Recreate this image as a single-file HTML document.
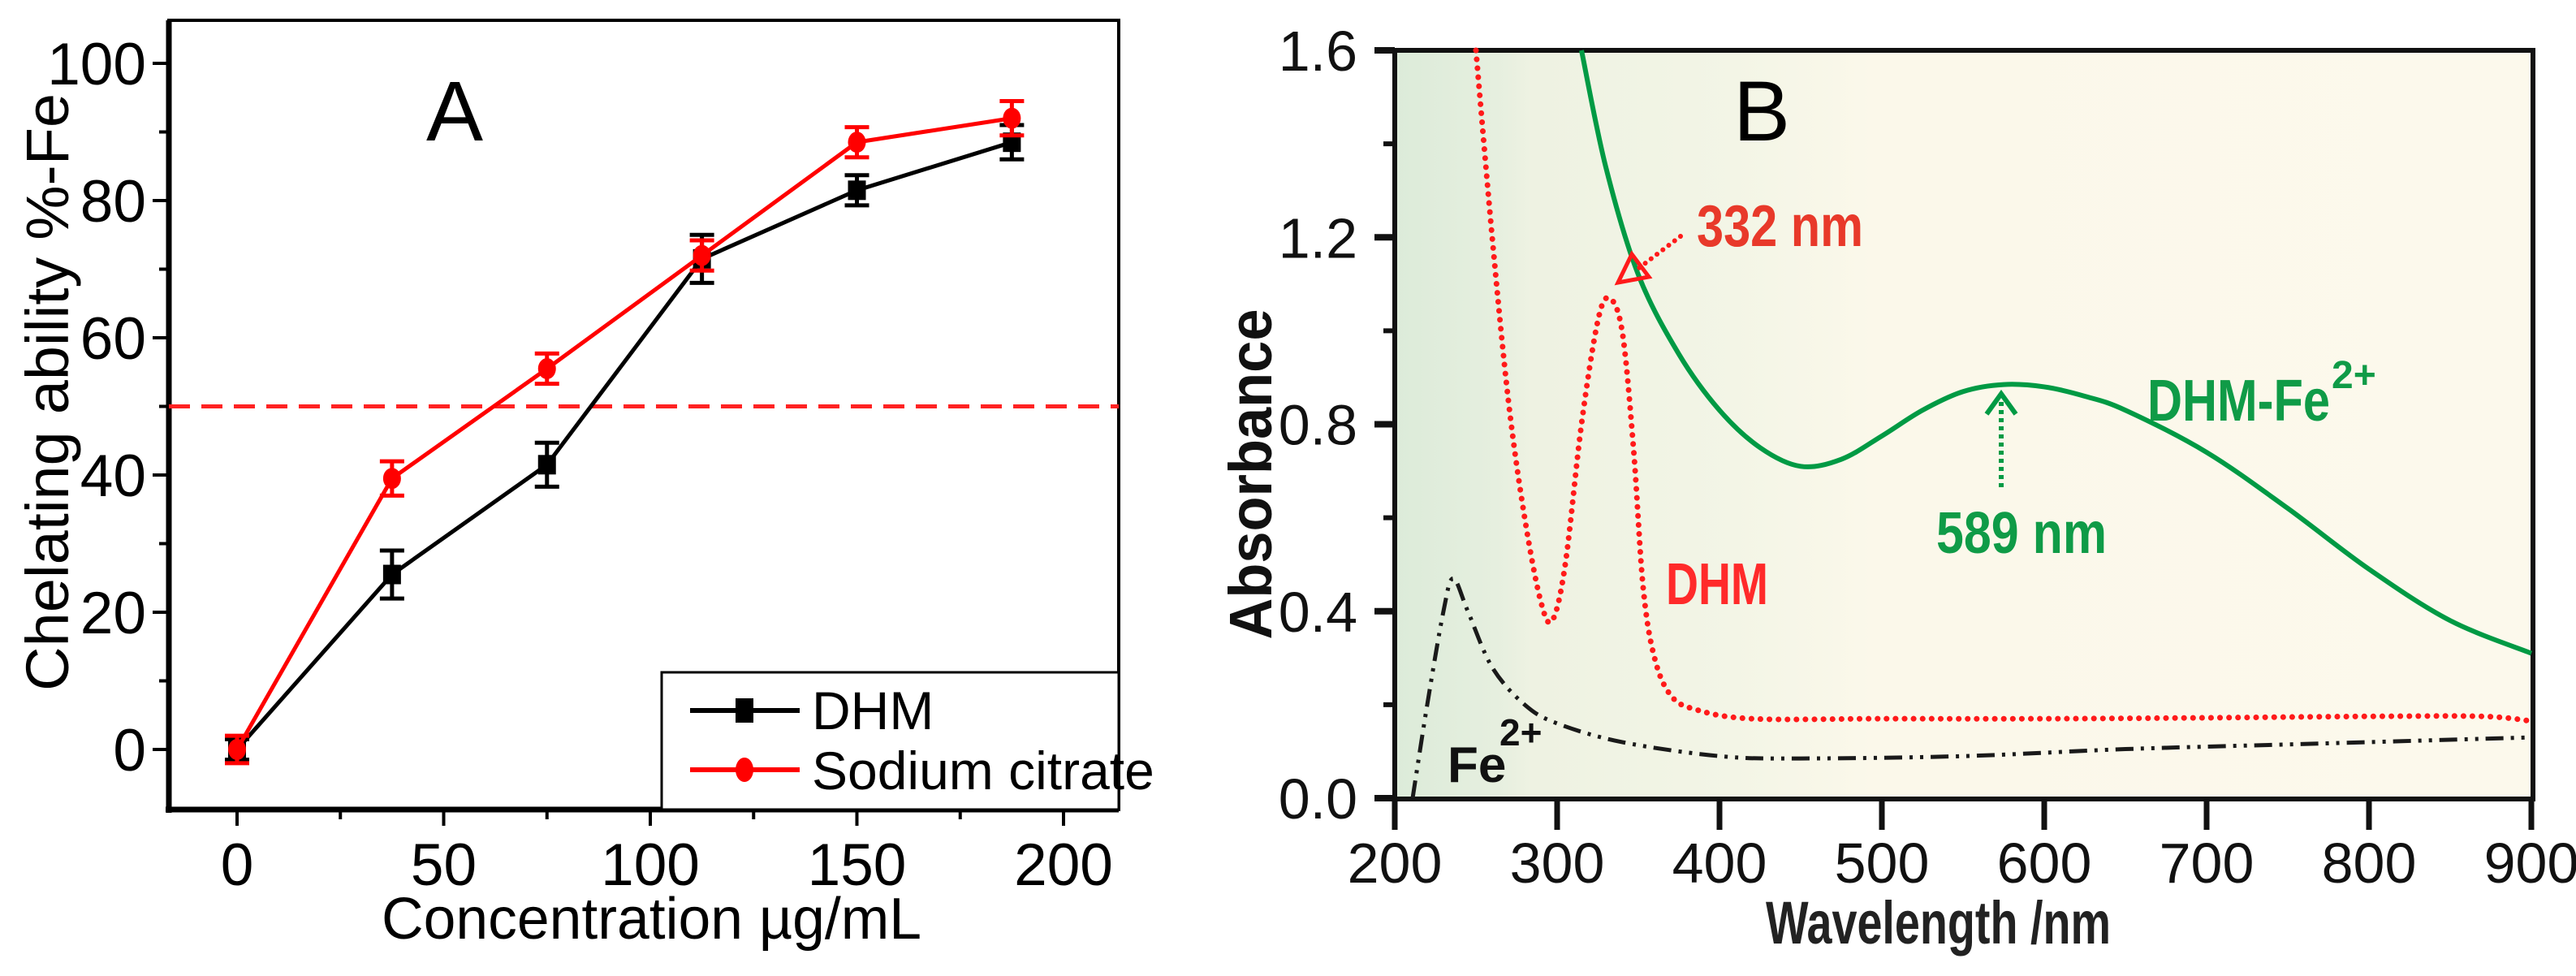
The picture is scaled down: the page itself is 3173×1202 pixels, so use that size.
<!DOCTYPE html>
<html><head><meta charset="utf-8"><style>
html,body{margin:0;padding:0;background:#fff}
svg{display:block}
text{font-family:"Liberation Sans Narrow","Liberation Sans",sans-serif}
</style></head><body>
<svg id="fig" width="3173" height="1202" viewBox="0 0 3173 1202" xmlns="http://www.w3.org/2000/svg">
<defs>
<linearGradient id="bgB" x1="0" y1="0" x2="1" y2="0">
<stop offset="0" stop-color="#dcebd9"/><stop offset="0.09" stop-color="#e6efdf"/><stop offset="0.12" stop-color="#eef2e2"/><stop offset="0.3" stop-color="#f3f5e6"/><stop offset="0.42" stop-color="#fbf8ea"/><stop offset="1" stop-color="#fcf9ec"/>
</linearGradient>
</defs>
<g id="panelA"></g>
<g id="panelB"></g>
</svg>
<script>
// ---------- Panel A data ----------
const concCategories = [0, 37.5, 75, 112.5, 150, 187.5];
const dhmValues = [0, 25.5, 41.5, 71.5, 81.5, 88.5];
const dhmErrors = [1.5, 3.5, 3.2, 3.5, 2.2, 2.5];
const citrateValues = [0, 39.5, 55.5, 72, 88.5, 92];
const citrateErrors = [2, 2.5, 2.2, 2.2, 2.2, 2.5];
const aXTicks = [0, 50, 100, 150, 200];
const aYTicks = [0, 20, 40, 60, 80, 100];
const thresholdValue = 50;

// ---------- Panel B data ----------
const dhmFeWl = [315,330,350,375,400,425,450,475,500,525,550,575,600,625,650,700,750,800,850,900];
const dhmFeAbs = [1.6,1.35,1.12,0.95,0.83,0.75,0.71,0.725,0.775,0.83,0.87,0.885,0.88,0.86,0.83,0.74,0.62,0.49,0.38,0.31];
const dhmWl = [250,260,270,280,290,297,305,315,325,332,340,347,353,360,370,385,420,500,600,700,800,870,900];
const dhmAbs = [1.6,1.2,0.85,0.6,0.42,0.38,0.5,0.8,1.02,1.07,1.0,0.75,0.45,0.3,0.22,0.19,0.17,0.17,0.17,0.172,0.175,0.175,0.165];
const feWl = [211,220,230,236,245,260,280,300,340,400,450,550,650,750,900];
const feAbs = [0,0.2,0.4,0.47,0.4,0.28,0.2,0.16,0.12,0.09,0.085,0.09,0.105,0.115,0.13];
const bXTicks = [200,300,400,500,600,700,800,900];
const bYTicks = [0.0,0.4,0.8,1.2,1.6];

const NS = "http://www.w3.org/2000/svg";
function mk(parent, tag, attrs, txt){
  const e = document.createElementNS(NS, tag);
  for (const k in attrs) e.setAttribute(k, attrs[k]);
  if (txt !== undefined) e.textContent = txt;
  parent.appendChild(e); return e;
}

// ===== Panel A =====
const A = document.getElementById('panelA');
const ax = v => 292 + v * (1310 - 292) / 200;
const ay = v => 923 - v * 8.45;
const aL = 208, aR = 1378, aT = 25, aB = 997;

let el;
el = mk(A,'rect',{x:aL,y:aT,width:aR-aL,height:aB-aT,fill:'#fff',stroke:'#000','stroke-width':4});
 
mk(A,'line',{x1:aL,y1:aT,x2:aL,y2:aB+4,stroke:'#000','stroke-width':7});
mk(A,'line',{x1:aL-4,y1:aB,x2:aR,y2:aB,stroke:'#000','stroke-width':7});

for (let v = 0; v <= 200; v += 25) {
  mk(A,'line',{x1:ax(v),y1:aB,x2:ax(v),y2:aB+(v%50===0?20:12),stroke:'#000','stroke-width':4});
}
aXTicks.forEach(v => {
  el = mk(A,'text',{x:ax(v),y:1090,'font-size':73,'text-anchor':'middle',fill:'#000'},String(v));
   
});
for (let v = -10; v <= 100; v += 10) {
  if (v < -8) continue;
  mk(A,'line',{x1:aL,y1:ay(v),x2:aL-(v%20===0?20:12),y2:ay(v),stroke:'#000','stroke-width':4});
}
aYTicks.forEach(v => {
  el = mk(A,'text',{x:180,y:ay(v)+26,'font-size':73,'text-anchor':'end',fill:'#000'},String(v));
   
});

el = mk(A,'text',{x:0,y:0,'font-size':74,'text-anchor':'middle',fill:'#000',transform:'translate(84,483) rotate(-90)',textLength:736,lengthAdjust:'spacingAndGlyphs',style:'font-family:"Liberation Sans",sans-serif'},'Chelating ability %-Fe');
 
el = mk(A,'text',{x:470,y:1156,'font-size':72,fill:'#000',textLength:665,lengthAdjust:'spacingAndGlyphs'},'Concentration   \u00b5g/mL');
 
el = mk(A,'text',{x:560,y:173,'font-size':105,'text-anchor':'middle',fill:'#000',style:'font-family:"Liberation Sans",sans-serif'},'A');
 

el = mk(A,'line',{x1:aL,y1:ay(thresholdValue),x2:aR,y2:ay(thresholdValue),stroke:'#f22','stroke-width':5,'stroke-dasharray':'26 14'});
 

function seriesA(vals, errs, color, marker, name){
  const g = mk(A,'g',{});
   
  const pts = concCategories.map((c,i)=>ax(c)+','+ay(vals[i])).join(' ');
  mk(g,'polyline',{points:pts,fill:'none',stroke:color,'stroke-width':5});
  concCategories.forEach((c,i)=>{
    const x = ax(c), y1 = ay(vals[i]+errs[i]), y2 = ay(vals[i]-errs[i]);
    const eb = mk(g,'path',{d:`M${x} ${y1}V${y2}M${x-15} ${y1}H${x+15}M${x-15} ${y2}H${x+15}`,stroke:color,'stroke-width':5,fill:'none'});
     
    let m;
    if (marker==='sq') m = mk(g,'rect',{x:x-11,y:ay(vals[i])-12,width:22,height:24,fill:color});
    else m = mk(g,'ellipse',{cx:x,cy:ay(vals[i]),rx:11,ry:13,fill:color});
     
  });
}
seriesA(dhmValues, dhmErrors, '#000', 'sq', 'dhm');
seriesA(citrateValues, citrateErrors, '#f00', 'ci', 'sodium-citrate');

const lg = mk(A,'g',{});
 
mk(lg,'rect',{x:815,y:828,width:aR-815,height:aB-828,fill:'#fff',stroke:'#000','stroke-width':3});
let le = mk(lg,'g',{});  
mk(le,'line',{x1:850,y1:875,x2:985,y2:875,stroke:'#000','stroke-width':6});
mk(le,'rect',{x:906,y:860,width:22,height:30,fill:'#000'});
mk(le,'text',{x:1000,y:898,'font-size':66,fill:'#000'},'DHM');
le = mk(lg,'g',{});  
mk(le,'line',{x1:850,y1:948,x2:985,y2:948,stroke:'#f00','stroke-width':6});
mk(le,'ellipse',{cx:917,cy:948,rx:11,ry:15,fill:'#f00'});
mk(le,'text',{x:1000,y:972,'font-size':66,fill:'#000'},'Sodium citrate');

// ===== Panel B =====
const B = document.getElementById('panelB');
const bx = v => 1718 + (v - 200) * (3118 - 1718) / 700;
const by = v => 983 - v * (983 - 62) / 1.6;
const bL = 1718, bR = 3120, bT = 62, bB = 984;

el = mk(B,'rect',{x:bL,y:bT,width:bR-bL,height:bB-bT,fill:'url(#bgB)'});
 
mk(B,'rect',{x:bL,y:bT,width:bR-bL,height:bB-bT,fill:'none',stroke:'#111','stroke-width':6});

bXTicks.forEach(v=>{
  mk(B,'line',{x1:bx(v),y1:bB,x2:bx(v),y2:bB+38,stroke:'#111','stroke-width':7});
  el = mk(B,'text',{x:bx(v),y:1087,'font-size':70,'text-anchor':'middle',fill:'#111'},String(v));
   
});
for (let v = 0; v <= 1.61; v += 0.2) {
  const major = Math.round(v*10)%4===0;
  mk(B,'line',{x1:bL,y1:by(v),x2:bL-(major?25:14),y2:by(v),stroke:'#111','stroke-width':major?8:6});
}
bYTicks.forEach(v=>{
  el = mk(B,'text',{x:1672,y:by(v)+25,'font-size':70,'text-anchor':'end',fill:'#111'},v.toFixed(1));
   
});
el = mk(B,'text',{x:0,y:0,'font-size':74,'font-weight':'bold','text-anchor':'middle',fill:'#111',transform:'translate(1566,584) rotate(-90)',textLength:407,lengthAdjust:'spacingAndGlyphs',style:'font-family:"Liberation Sans",sans-serif'},'Absorbance');
 
el = mk(B,'text',{x:2175,y:1162,'font-size':74,'font-weight':'bold',fill:'#222',textLength:425,lengthAdjust:'spacingAndGlyphs'},'Wavelength /nm');
 
el = mk(B,'text',{x:2170,y:173,'font-size':105,'text-anchor':'middle',fill:'#000',style:'font-family:"Liberation Sans",sans-serif'},'B');
 

function smoothPath(xs, ys){
  const P = xs.map((w,i)=>[bx(w), by(ys[i])]);
  let d = `M${P[0][0]},${P[0][1]}`;
  for (let i=0;i<P.length-1;i++){
    const p0=P[Math.max(0,i-1)],p1=P[i],p2=P[i+1],p3=P[Math.min(P.length-1,i+2)];
    const c1=[p1[0]+(p2[0]-p0[0])/6,p1[1]+(p2[1]-p0[1])/6];
    const c2=[p2[0]-(p3[0]-p1[0])/6,p2[1]-(p3[1]-p1[1])/6];
    d += `C${c1[0]},${c1[1]} ${c2[0]},${c2[1]} ${p2[0]},${p2[1]}`;
  }
  return d;
}
el = mk(B,'path',{d:smoothPath(feWl,feAbs),fill:'none',stroke:'#1a1a1a','stroke-width':5,'stroke-dasharray':'22 9 4 9 4 9'});
 
el = mk(B,'path',{d:smoothPath(dhmWl,dhmAbs),fill:'none',stroke:'#ff1a1a','stroke-width':7,'stroke-dasharray':'0.1 11','stroke-linecap':'round'});
 
el = mk(B,'path',{d:smoothPath(dhmFeWl,dhmFeAbs),fill:'none',stroke:'#009a44','stroke-width':6});
 

const an1 = mk(B,'g',{});  
mk(an1,'line',{x1:2070,y1:291,x2:2015,y2:333,stroke:'#ff1a1a','stroke-width':6,'stroke-dasharray':'0.1 9','stroke-linecap':'round'});
mk(an1,'path',{d:'M1993 348 L2010 313 L2031 341 Z',fill:'none',stroke:'#ff1a1a','stroke-width':5});
mk(an1,'text',{x:2090,y:303,'font-size':72,'font-weight':'bold',fill:'#e8392a',textLength:205,lengthAdjust:'spacingAndGlyphs'},'332 nm');
const an2 = mk(B,'g',{});  
mk(an2,'line',{x1:2465,y1:600,x2:2465,y2:490,stroke:'#009a44','stroke-width':6,'stroke-dasharray':'5 5'});
mk(an2,'path',{d:'M2447 510 L2465 485 L2483 510',fill:'none',stroke:'#009a44','stroke-width':6});
mk(an2,'text',{x:2385,y:681,'font-size':72,'font-weight':'bold',fill:'#0f9b47',textLength:210,lengthAdjust:'spacingAndGlyphs'},'589 nm');
el = mk(B,'text',{x:2052,y:744,'font-size':72,'font-weight':'bold',fill:'#ff2a2a',textLength:126,lengthAdjust:'spacingAndGlyphs'},'DHM');
 
const l3 = mk(B,'g',{});  
mk(l3,'text',{x:2645,y:518,'font-size':72,'font-weight':'bold',fill:'#0f9b47',textLength:225,lengthAdjust:'spacingAndGlyphs'},'DHM-Fe');
mk(l3,'text',{x:2872,y:478,'font-size':48,'font-weight':'bold',fill:'#0f9b47'},'2+');
const l4 = mk(B,'g',{});  
mk(l4,'text',{x:1783,y:963,'font-size':62,'font-weight':'bold',fill:'#111'},'Fe');
mk(l4,'text',{x:1847,y:918,'font-size':46,'font-weight':'bold',fill:'#111'},'2+');
</script>
</body></html>
